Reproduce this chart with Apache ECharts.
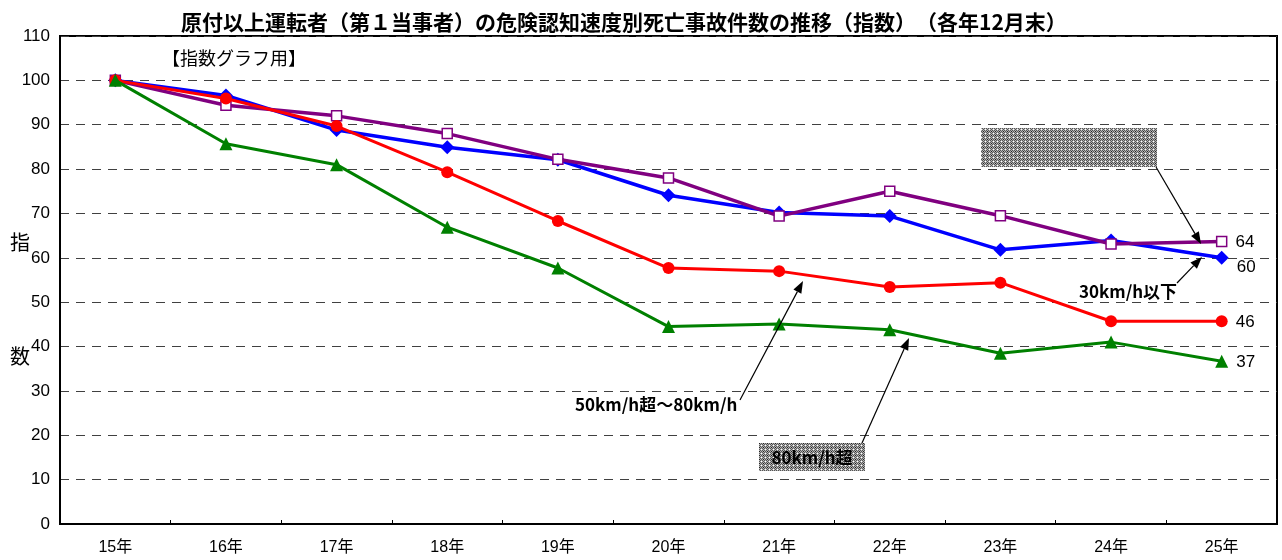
<!DOCTYPE html>
<html>
<head>
<meta charset="utf-8">
<script src="https://cdn.jsdelivr.net/npm/echarts@6/dist/echarts.min.js"></script>
<style>
html,body{margin:0;padding:0;background:#fff;}
#chart{width:1282px;height:560px;}
</style>
</head>
<body>
<div id="chart"></div>
<script>
const titleText = '原付以上運転者（第１当事者）の危険認知速度別死亡事故件数の推移（指数）　（各年12月末）';
const categories = ['15年','16年','17年','18年','19年','20年','21年','22年','23年','24年','25年'];
const under30 = [100, 96.6, 88.8, 84.9, 82.1, 74.1, 70.2, 69.4, 61.8, 63.9, 60.0];
const from30to50 = [100, 94.4, 92.0, 88.0, 82.2, 78.0, 69.4, 75.0, 69.5, 63.1, 63.7];
const from50to80 = [100, 95.9, 89.7, 79.3, 68.3, 57.7, 57.0, 53.4, 54.4, 45.7, 45.7];
const over80 = [100, 85.7, 81.0, 66.9, 57.7, 44.5, 45.1, 43.8, 38.5, 41.0, 36.7];
const yTicks = {min: 0, max: 110, interval: 10};

const CJK = '"Noto Sans CJK JP", sans-serif';
const NUM = '"Liberation Sans", "Noto Sans CJK JP", sans-serif';

// dithered gray pattern
const pc = document.createElement('canvas');
pc.width = 4; pc.height = 4;
const pctx = pc.getContext('2d');
for (let y = 0; y < 4; y++) for (let x = 0; x < 4; x++) {
  pctx.fillStyle = ((x + y) % 2 === 0) ? '#555555' : '#b4b4b4';
  if (x === 1 && y === 1) pctx.fillStyle = '#ffffff';
  if (x === 3 && y === 3) pctx.fillStyle = '#222222';
  pctx.fillRect(x, y, 1, 1);
}
const pattern = {image: pc, repeat: 'repeat'};

function arrow(x1, y1, x2, y2) {
  const ang = Math.atan2(y2 - y1, x2 - x1);
  const L = 12, W = 4.5;
  const bx = x2 - L * Math.cos(ang), by = y2 - L * Math.sin(ang);
  const px = -Math.sin(ang) * W, py = Math.cos(ang) * W;
  return [
    {type: 'line', shape: {x1, y1, x2: bx, y2: by}, style: {stroke: '#000', lineWidth: 1.2}, z: 100},
    {type: 'polygon', shape: {points: [[x2, y2], [bx + px, by + py], [bx - px, by - py]]}, style: {fill: '#000'}, z: 100}
  ];
}

function lastLabel(arr, offsetY) {
  return arr.map((v, i) => i === arr.length - 1 ? {
    value: v,
    label: {show: true, position: 'right', distance: 8, offset: [0, offsetY],
      formatter: p => Math.round(p.value), color: '#000', fontSize: 17, fontFamily: NUM}
  } : v);
}

const chart = echarts.init(document.getElementById('chart'));
chart.setOption({
  animation: false,
  backgroundColor: '#fff',
  title: {
    text: titleText, left: 176, top: 7,
    textStyle: {fontSize: 21, fontWeight: 'bold', color: '#000', fontFamily: CJK}
  },
  grid: {left: 60, right: 5, top: 36, bottom: 36, show: true, borderColor: '#000', borderWidth: 2, backgroundColor: 'transparent'},
  xAxis: {
    type: 'category', data: categories, boundaryGap: true,
    axisLine: {lineStyle: {color: '#000', width: 2}},
    axisTick: {show: true, inside: true, length: 4, lineStyle: {color: '#000'}},
    axisLabel: {color: '#000', fontSize: 16, fontFamily: NUM, margin: 16}
  },
  yAxis: {
    type: 'value', min: yTicks.min, max: yTicks.max, interval: yTicks.interval,
    axisLine: {show: true, lineStyle: {color: '#000', width: 2}},
    axisTick: {show: false},
    axisLabel: {color: '#000', fontSize: 17, fontFamily: NUM, margin: 10},
    splitLine: {show: true, lineStyle: {color: '#404040', type: [9, 7], width: 1}}
  },
  series: [
    {name: '30km/h以下', type: 'line', data: lastLabel(under30, 9), color: '#0000ff',
      lineStyle: {width: 3.5, color: '#0000ff'}, symbol: 'diamond', symbolSize: 14,
      itemStyle: {color: '#0000ff'}, z: 2},
    {name: '30km/h超～50km/h', type: 'line', data: lastLabel(from30to50, 1), color: '#800080',
      lineStyle: {width: 3.5, color: '#800080'}, symbol: 'rect', symbolSize: 10,
      itemStyle: {color: '#ffffff', borderColor: '#800080', borderWidth: 1.5}, z: 3},
    {name: '50km/h超～80km/h', type: 'line', data: lastLabel(from50to80, 1), color: '#ff0000',
      lineStyle: {width: 3, color: '#ff0000'}, symbol: 'circle', symbolSize: 12,
      itemStyle: {color: '#ff0000'}, z: 4},
    {name: '80km/h超', type: 'line', data: lastLabel(over80, 1), color: '#008000',
      lineStyle: {width: 3, color: '#008000'}, symbol: 'triangle', symbolSize: 13,
      itemStyle: {color: '#008000'}, z: 5}
  ],
  graphic: [
    {type: 'text', left: 162, top: 49, style: {text: '【指数グラフ用】', font: '18px ' + CJK, fill: '#000'}, z: 100},
    {type: 'text', x: 20, y: 242, style: {text: '指', font: '20px ' + CJK, fill: '#000', textAlign: 'center', textVerticalAlign: 'middle'}, z: 100},
    {type: 'text', x: 20, y: 356, style: {text: '数', font: '20px ' + CJK, fill: '#000', textAlign: 'center', textVerticalAlign: 'middle'}, z: 100},
    {type: 'rect', shape: {x: 981, y: 128, width: 176, height: 39}, style: {fill: pattern}, z: 90},
    ...arrow(1156, 167, 1201, 244),
    {type: 'text', x: 1128, y: 292, style: {text: '30km/h以下', font: 'bold 17px ' + CJK, fill: '#000', textAlign: 'center', textVerticalAlign: 'middle'}, z: 100},
    ...arrow(1177, 283, 1202, 257),
    {type: 'text', x: 575, y: 405, style: {text: '50km/h超～80km/h', font: 'bold 17px ' + CJK, fill: '#000', textAlign: 'left', textVerticalAlign: 'middle'}, z: 100},
    ...arrow(740, 400, 803, 281),
    {type: 'rect', shape: {x: 759, y: 443, width: 106, height: 28}, style: {fill: pattern}, z: 90},
    {type: 'text', x: 812, y: 458, style: {text: '80km/h超', font: 'bold 17px ' + CJK, fill: '#000', textAlign: 'center', textVerticalAlign: 'middle'}, z: 100},
    ...arrow(862, 443, 909, 338)
  ]
});
</script>
</body>
</html>
